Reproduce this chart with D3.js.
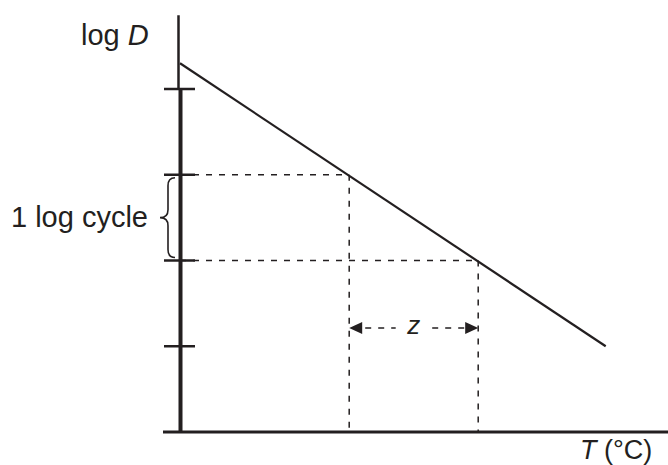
<!DOCTYPE html>
<html>
<head>
<meta charset="utf-8">
<script src="https://cdn.jsdelivr.net/npm/d3@7"></script>
<style>
  html, body { margin: 0; padding: 0; background: #fff; }
  svg { display: block; }
  text { font-family: "Liberation Sans", Arial, sans-serif; fill: #231f20; }
</style>
</head>
<body>
<div id="chart"></div>
<script>
// Thermal death time curve: log D falls linearly with temperature T.
const logTicks = [1, 2, 3, 4];          // marked log cycles on the vertical axis
const curveT = [0, 3.3];                 // temperature (arbitrary units, 1 unit = z)
const curveLogD = [4.3, 1.0];            // log D at those temperatures
const cycleFrom = 2, cycleTo = 3;        // the bracketed "1 log cycle"
const yLabel = "log ", yLabelVar = "D";
const xLabelVar = "T", xLabelUnit = " (°C)";
const braceLabel = "1 log cycle";
const zLabel = "z";

const W = 668, H = 465;
const ink = "#231f20";

const svg = d3.select("#chart").append("svg")
  .attr("width", W).attr("height", H);

const x = d3.scaleLinear().domain([0, 1]).range([180, 309]);
const y = d3.scaleLinear().domain([0, 4]).range([432, 89]);

// Linear curve value lookup
const slope = (curveLogD[1] - curveLogD[0]) / (curveT[1] - curveT[0]);
const tAt = v => curveT[0] + (v - curveLogD[0]) / slope;

// Vertical axis: thin above the top tick, heavy below it
svg.append("line")
  .attr("x1", 178.5).attr("x2", 178.5)
  .attr("y1", y(4.86)).attr("y2", y(4))
  .attr("stroke", ink).attr("stroke-width", 2.5);
svg.append("line")
  .attr("x1", 180.5).attr("x2", 180.5)
  .attr("y1", y(4)).attr("y2", y(0))
  .attr("stroke", ink).attr("stroke-width", 4);

// Log-cycle ticks
svg.selectAll("line.tick").data(logTicks).join("line")
  .attr("class", "tick")
  .attr("x1", 164).attr("x2", 195)
  .attr("y1", d => y(d)).attr("y2", d => y(d))
  .attr("stroke", ink).attr("stroke-width", 2.5);

// Horizontal axis
svg.append("line")
  .attr("x1", 163).attr("x2", W)
  .attr("y1", y(0)).attr("y2", y(0))
  .attr("stroke", ink).attr("stroke-width", 3);

// Curve
const line = d3.line().x(d => x(d[0])).y(d => y(d[1]));
svg.append("path")
  .datum(curveT.map((t, i) => [t, curveLogD[i]]))
  .attr("d", line)
  .attr("fill", "none").attr("stroke", ink).attr("stroke-width", 2.2);

// Dashed guides at the two bracketed log cycles
const guides = [cycleTo, cycleFrom].map(v => ({ v, t: tAt(v) }));
guides.forEach(g => {
  svg.append("line")
    .attr("x1", x(0)).attr("x2", x(g.t))
    .attr("y1", y(g.v)).attr("y2", y(g.v))
    .attr("stroke", ink).attr("stroke-width", 1.5)
    .attr("stroke-dasharray", "6,7");
  svg.append("line")
    .attr("x1", x(g.t) + 1.5).attr("x2", x(g.t) + 1.5)
    .attr("y1", y(g.v)).attr("y2", y(0))
    .attr("stroke", ink).attr("stroke-width", 1.5)
    .attr("stroke-dasharray", "6,7");
});

// z arrow between the two guides
const ay = 328;
const xl = x(guides[0].t) + 1.5, xr = x(guides[1].t) + 1.5;
const xm = (xl + xr) / 2;
svg.append("path")
  .attr("d", `M${xl},${ay} l13,-6 l0,12 Z`).attr("fill", ink);
svg.append("path")
  .attr("d", `M${xr},${ay} l-13,-6 l0,12 Z`).attr("fill", ink);
svg.append("line")
  .attr("x1", xl + 13).attr("x2", xm - 18)
  .attr("y1", ay).attr("y2", ay)
  .attr("stroke", ink).attr("stroke-width", 1.5)
  .attr("stroke-dasharray", "6,7").attr("stroke-dashoffset", -3);
svg.append("line")
  .attr("x1", xr - 13).attr("x2", xm + 16)
  .attr("y1", ay).attr("y2", ay)
  .attr("stroke", ink).attr("stroke-width", 1.5)
  .attr("stroke-dasharray", "6,7").attr("stroke-dashoffset", -1);
svg.append("text")
  .attr("x", xm).attr("y", ay + 6)
  .attr("text-anchor", "middle")
  .attr("font-size", 26).attr("font-style", "italic")
  .text(zLabel);

// Curly brace spanning one log cycle
const bt = y(cycleTo) + 3, bb = y(cycleFrom) - 3, bm = (bt + bb) / 2;
svg.append("path")
  .attr("d", `M175,${bt} Q168,${bt} 168,${bt + 8} L168,${bm - 8} Q168,${bm} 160,${bm}` +
             ` Q168,${bm} 168,${bm + 8} L168,${bb - 8} Q168,${bb} 175,${bb}`)
  .attr("fill", "none").attr("stroke", ink).attr("stroke-width", 1.6);
svg.append("text")
  .attr("x", 148).attr("y", bm + 9)
  .attr("text-anchor", "end")
  .attr("font-size", 29)
  .text(braceLabel);

// Axis titles
const yt = svg.append("text")
  .attr("x", 81).attr("y", 45)
  .attr("font-size", 29);
yt.append("tspan").text(yLabel);
yt.append("tspan").attr("font-style", "italic").text(yLabelVar);

const xt = svg.append("text")
  .attr("x", 580).attr("y", 459)
  .attr("font-size", 27);
xt.append("tspan").attr("font-style", "italic").text(xLabelVar);
xt.append("tspan").text(xLabelUnit);
</script>
</body>
</html>
